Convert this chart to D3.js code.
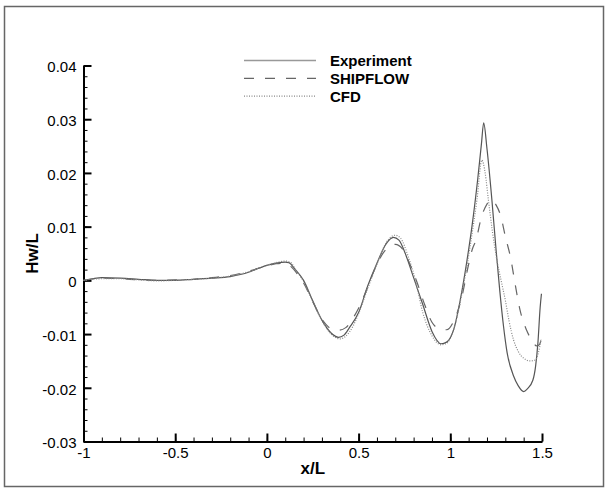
<!DOCTYPE html>
<html>
<head>
<meta charset="utf-8">
<script src="https://cdn.jsdelivr.net/npm/d3@7"></script>
<style>
  body { margin: 0; background: #fff; }
  text { font-family: "Liberation Sans", Arial, sans-serif; }
</style>
</head>
<body>
<div id="chart"></div>
<script>
// wave profile data
var expX = [-1, -0.95, -0.9, -0.8, -0.7, -0.6, -0.5, -0.4, -0.3, -0.2, -0.1, -0.05, 0, 0.05, 0.1, 0.12, 0.15, 0.2, 0.25, 0.3, 0.35, 0.39, 0.42, 0.45, 0.5, 0.55, 0.6, 0.65, 0.69, 0.72, 0.76, 0.8, 0.85, 0.9, 0.95, 0.98, 1.02, 1.054, 1.09, 1.118, 1.15, 1.17, 1.182, 1.2, 1.227, 1.25, 1.27, 1.29, 1.31, 1.345, 1.37, 1.4, 1.42, 1.45, 1.465, 1.478, 1.49, 1.497];
var expY = [0, 0.0003, 0.0005, 0.0004, 0.0002, 0, 0, 0.0002, 0.0004, 0.0007, 0.0015, 0.0022, 0.0028, 0.0032, 0.0034, 0.0033, 0.0022, 0.0000, -0.0038, -0.0074, -0.0098, -0.0106, -0.0102, -0.0088, -0.006, -0.001, 0.0032, 0.0068, 0.008, 0.0075, 0.0045, 0.0005, -0.0045, -0.0095, -0.0118, -0.0115, -0.009, -0.0037, 0.0035, 0.01, 0.019, 0.0255, 0.0293, 0.0245, 0.0149, 0.0055, -0.002, -0.0085, -0.0135, -0.0178, -0.0196, -0.0207, -0.0202, -0.0186, -0.016, -0.0115, -0.005, -0.0025];

var shipX = [-1, -0.9, -0.8, -0.7, -0.6, -0.5, -0.4, -0.3, -0.2, -0.1, 0, 0.05, 0.1, 0.13, 0.17, 0.2, 0.25, 0.3, 0.35, 0.39, 0.43, 0.47, 0.5, 0.55, 0.6, 0.65, 0.7, 0.74, 0.78, 0.82, 0.86, 0.9, 0.94, 0.98, 1.02, 1.06, 1.1, 1.12, 1.14, 1.17, 1.2, 1.225, 1.25, 1.275, 1.3, 1.33, 1.355, 1.38, 1.415, 1.45, 1.47, 1.485, 1.495];
var shipY = [0, 0.0004, 0.0003, 0.0001, 0, 0.0001, 0.0002, 0.0005, 0.0009, 0.0017, 0.0027, 0.0031, 0.0032, 0.0026, 0.001, -0.0005, -0.004, -0.0072, -0.009, -0.0093, -0.0088, -0.007, -0.0052, -0.0012, 0.003, 0.0058, 0.0067, 0.0058, 0.003, -0.0005, -0.0045, -0.0078, -0.009, -0.0092, -0.0075, -0.0035, 0.003, 0.0058, 0.0075, 0.0118, 0.0142, 0.015, 0.014, 0.012, 0.0082, 0.004, -0.001, -0.0055, -0.0092, -0.0114, -0.0122, -0.012, -0.011];

var cfdX = [-1, -0.9, -0.8, -0.7, -0.6, -0.5, -0.4, -0.3, -0.2, -0.1, 0, 0.05, 0.1, 0.13, 0.16, 0.2, 0.25, 0.3, 0.35, 0.4, 0.43, 0.47, 0.5, 0.55, 0.6, 0.65, 0.7, 0.73, 0.77, 0.81, 0.85, 0.9, 0.95, 0.98, 1.02, 1.06, 1.09, 1.12, 1.145, 1.172, 1.19, 1.208, 1.23, 1.254, 1.28, 1.3, 1.32, 1.345, 1.37, 1.4, 1.436, 1.465, 1.48, 1.495];
var cfdY = [0, 0.0003, 0.0003, 0.0001, -0.0001, 0, 0.0002, 0.0004, 0.0008, 0.0016, 0.0028, 0.0033, 0.0036, 0.0033, 0.0018, -0.0002, -0.004, -0.0075, -0.01, -0.0109, -0.0104, -0.0085, -0.0062, -0.0015, 0.003, 0.007, 0.0084, 0.0078, 0.0045, 0, -0.006, -0.0103, -0.012, -0.0117, -0.009, -0.003, 0.0025, 0.009, 0.0149, 0.0224, 0.02, 0.0149, 0.009, 0.0038, -0.0005, -0.0037, -0.0075, -0.0111, -0.0132, -0.0145, -0.015, -0.0148, -0.0135, -0.011];

var xTicks = [-1, -0.5, 0, 0.5, 1, 1.5];
var xTickLabels = ["-1", "-0.5", "0", "0.5", "1", "1.5"];
var yTicks = [-0.03, -0.02, -0.01, 0, 0.01, 0.02, 0.03, 0.04];
var yTickLabels = ["-0.03", "-0.02", "-0.01", "0", "0.01", "0.02", "0.03", "0.04"];
var seriesNames = ["Experiment", "SHIPFLOW", "CFD"];

var W = 609, H = 494;
var plotLeft = 83.5, plotRight = 542, plotTop = 65.5, plotBottom = 441.5;

var svg = d3.select("#chart").append("svg")
  .attr("width", W)
  .attr("height", H);

// outer frame
svg.append("rect")
  .attr("x", 4.5).attr("y", 6.5)
  .attr("width", 599).attr("height", 480)
  .attr("fill", "none")
  .attr("stroke", "#666")
  .attr("stroke-width", 1.5);

var x = d3.scaleLinear().domain([-1, 1.5]).range([plotLeft, plotRight]);
var y = d3.scaleLinear().domain([-0.03, 0.04]).range([plotBottom, plotTop]);

// minor ticks
var xMinor = d3.range(-1, 1.5001, 0.1);
var yMinor = d3.range(-0.03, 0.04001, 0.002);

svg.append("g")
  .attr("transform", "translate(0," + plotBottom + ")")
  .call(d3.axisBottom(x).tickValues(xMinor).tickSize(-4).tickFormat(""))
  .call(g => g.select(".domain").remove())
  .selectAll("line").attr("stroke", "#000").attr("stroke-width", 1);

svg.append("g")
  .attr("transform", "translate(" + plotLeft + ",0)")
  .call(d3.axisLeft(y).tickValues(yMinor).tickSize(-4).tickFormat(""))
  .call(g => g.select(".domain").remove())
  .selectAll("line").attr("stroke", "#000").attr("stroke-width", 1);

// major axes
var xAxis = svg.append("g")
  .attr("transform", "translate(0," + plotBottom + ")")
  .call(d3.axisBottom(x).tickValues(xTicks).tickSize(-8).tickSizeOuter(0).tickPadding(6)
    .tickFormat((d, i) => xTickLabels[i]));
xAxis.select(".domain").attr("stroke", "#000").attr("stroke-width", 2);
xAxis.selectAll("line").attr("stroke", "#000").attr("stroke-width", 2);
xAxis.selectAll("text").style("font-size", "15px").attr("fill", "#000")
  .style("font-family", "'Liberation Sans', Arial, sans-serif");

var yAxis = svg.append("g")
  .attr("transform", "translate(" + plotLeft + ",0)")
  .call(d3.axisLeft(y).tickValues(yTicks).tickSize(-8).tickSizeOuter(0).tickPadding(7)
    .tickFormat((d, i) => yTickLabels[i]));
yAxis.select(".domain").attr("stroke", "#000").attr("stroke-width", 2);
yAxis.selectAll("line").attr("stroke", "#000").attr("stroke-width", 2);
yAxis.selectAll("text").style("font-size", "15px").attr("fill", "#000")
  .attr("dy", "0.42em")
  .style("font-family", "'Liberation Sans', Arial, sans-serif");

// axis titles
svg.append("text")
  .attr("x", (plotLeft + plotRight) / 2)
  .attr("y", 474)
  .attr("text-anchor", "middle")
  .style("font-size", "17px")
  .style("font-weight", "bold")
  .text("x/L");

svg.append("text")
  .attr("transform", "translate(38," + ((plotTop + plotBottom) / 2) + ") rotate(-90)")
  .attr("text-anchor", "middle")
  .style("font-size", "17px")
  .style("font-weight", "bold")
  .text("Hw/L");

// curves
var line = d3.line()
  .x(d => x(d[0]))
  .y(d => y(d[1]))
  .curve(d3.curveMonotoneX);

var styles = [
  { color: "#555", dash: null, width: 1.2 },
  { color: "#666", dash: "10,11", width: 1.2 },
  { color: "#888", dash: "1,1.5", width: 1.2 }
];
var series = [
  d3.zip(expX, expY),
  d3.zip(shipX, shipY),
  d3.zip(cfdX, cfdY)
];

series.forEach(function(data, i) {
  svg.append("path")
    .datum(data)
    .attr("fill", "none")
    .attr("stroke", styles[i].color)
    .attr("stroke-width", styles[i].width)
    .attr("stroke-dasharray", styles[i].dash)
    .attr("d", line);
});

// legend
var legend = svg.append("g");
seriesNames.forEach(function(name, i) {
  var ly = 60.5 + i * 17.8;
  legend.append("line")
    .attr("x1", 244).attr("x2", 316)
    .attr("y1", ly).attr("y2", ly)
    .attr("stroke", i == 0 ? "#999" : styles[i].color)
    .attr("stroke-width", i == 0 ? 1.5 : 1.2)
    .attr("stroke-dasharray", styles[i].dash);
  legend.append("text")
    .attr("x", 330)
    .attr("y", ly + 5.5)
    .style("font-size", "15px")
    .style("font-weight", "bold")
    .text(name);
});
</script>
</body>
</html>
